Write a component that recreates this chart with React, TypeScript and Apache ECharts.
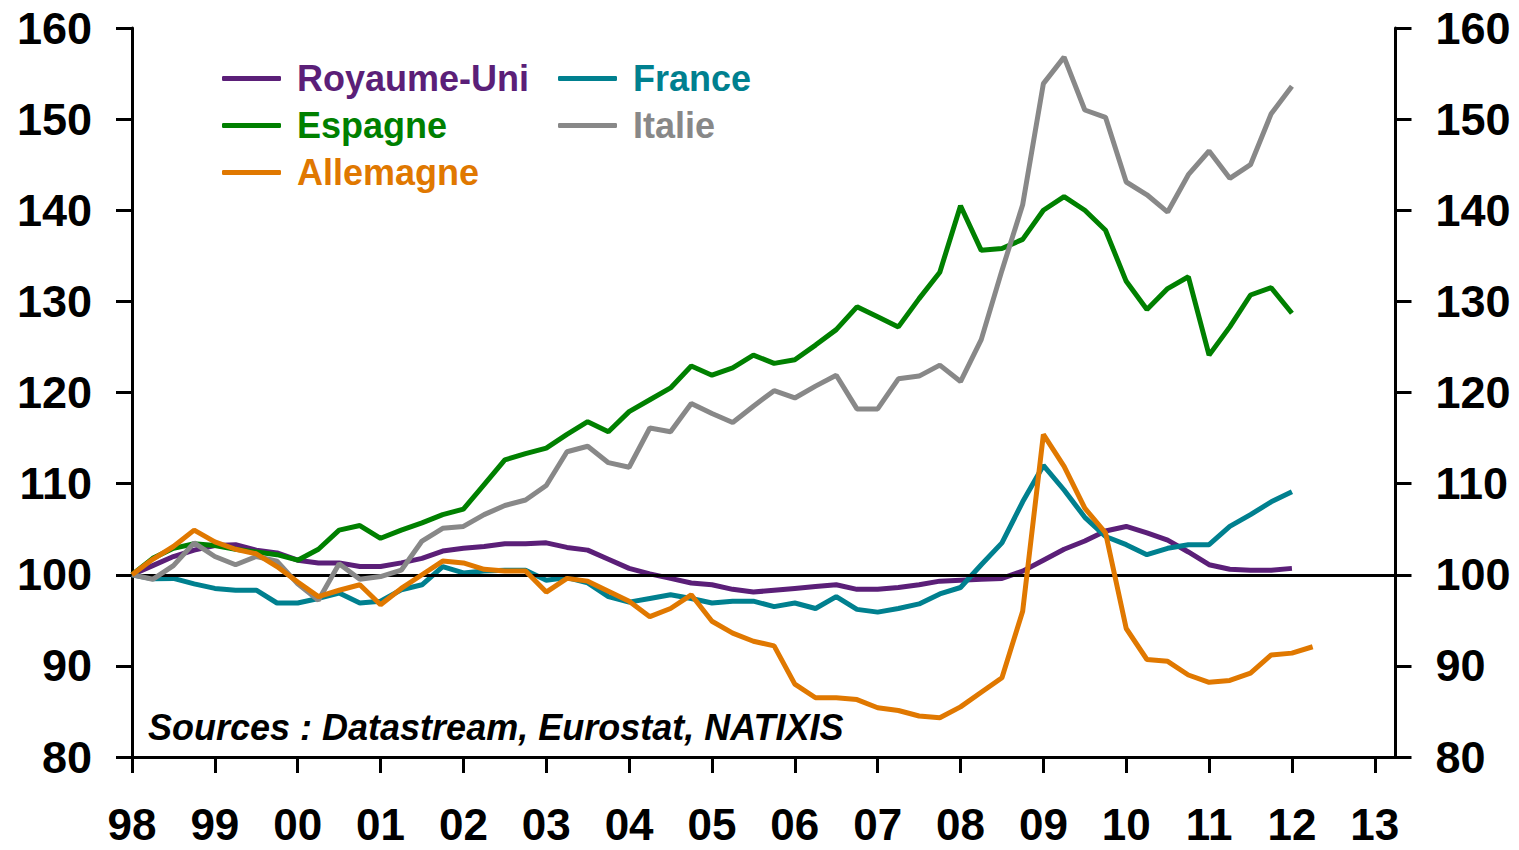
import React, { useEffect, useRef } from "react";
import * as echarts from "echarts";

// Quarterly index (1998 Q1 = 100)
const START_YEAR = 1998;
const years = [1998, 1999, 2000, 2001, 2002, 2003, 2004, 2005, 2006, 2007, 2008, 2009, 2010, 2011, 2012, 2013];
const xTickLabels = ["98", "99", "00", "01", "02", "03", "04", "05", "06", "07", "08", "09", "10", "11", "12", "13"];
const yTicks = { min: 80, max: 160, step: 10 };

const royaumeUni = [
  100, 101.0, 102.0, 102.7, 103.2, 103.3, 102.7, 102.4, 101.6, 101.3,
  101.3, 100.9, 100.9, 101.3, 101.8, 102.6, 102.9, 103.1, 103.4, 103.4,
  103.5, 103.0, 102.7, 101.7, 100.7, 100.1, 99.6, 99.1, 98.9, 98.4,
  98.1, 98.3, 98.5, 98.7, 98.9, 98.4, 98.4, 98.6, 98.9, 99.3,
  99.4, 99.5, 99.6, 100.4, 101.6, 102.8, 103.7, 104.8, 105.3, 104.6,
  103.8, 102.5, 101.1, 100.6, 100.5, 100.5, 100.7,
];
const france = [
  100, 99.55, 99.6, 99.0, 98.5, 98.3, 98.3, 96.9, 96.9, 97.4,
  98.0, 96.9, 97.1, 98.35, 98.9, 100.9, 100.2, 100.4, 100.5, 100.5,
  99.4, 99.7, 99.1, 97.6, 97.0, 97.4, 97.8, 97.4, 96.9, 97.1,
  97.1, 96.5, 96.9, 96.3, 97.6, 96.2, 95.9, 96.3, 96.8, 97.9,
  98.6, 101.1, 103.5, 108.0, 112.0, 109.3, 106.3, 104.2, 103.3, 102.2,
  102.9, 103.3, 103.3, 105.3, 106.6, 108.0, 109.1,
];
const espagne = [
  100, 101.8, 102.9, 103.4, 103.2, 102.8, 102.5, 102.2, 101.6, 102.8,
  104.9, 105.4, 104.0, 104.9, 105.7, 106.6, 107.2, 109.9, 112.6, 113.3,
  113.9, 115.4, 116.8, 115.7, 117.9, 119.2, 120.5, 122.9, 121.9, 122.7,
  124.1, 123.2, 123.6, 125.2, 126.9, 129.4, 128.3, 127.2, 130.3, 133.2,
  140.5, 135.6, 135.8, 136.8, 140.0, 141.5, 140.0, 137.8, 132.2, 129.1,
  131.4, 132.7, 124.1, 127.2, 130.7, 131.5, 128.7,
];
const italie = [
  100, 99.5, 101.0, 103.5, 102.0, 101.1, 102.0, 101.5, 99.0, 97.2,
  101.2, 99.5, 99.8, 100.5, 103.7, 105.1, 105.3, 106.6, 107.6, 108.2,
  109.8, 113.5, 114.1, 112.3, 111.8, 116.1, 115.7, 118.8, 117.7, 116.7,
  118.5, 120.2, 119.4, 120.7, 121.9, 118.2, 118.2, 121.5, 121.8, 123.0,
  121.2, 125.8, 133.4, 140.6, 153.9, 156.8, 151.0, 150.2, 143.1, 141.7,
  139.8, 143.9, 146.5, 143.5, 145.0, 150.6, 153.6,
];
const allemagne = [
  100, 101.7, 103.1, 104.9, 103.6, 102.8, 102.3, 100.9, 99.2, 97.6,
  98.3, 98.9, 96.7, 98.5, 100.0, 101.5, 101.3, 100.6, 100.4, 100.4,
  98.1, 99.6, 99.3, 98.2, 97.1, 95.4, 96.3, 97.8, 94.9, 93.6,
  92.7, 92.2, 88.0, 86.5, 86.5, 86.3, 85.4, 85.1, 84.5, 84.3,
  85.5, 87.1, 88.7, 96.0, 115.4, 111.9, 107.3, 104.6, 94.1, 90.7,
  90.5, 89.0, 88.2, 88.4, 89.2, 91.2, 91.4, 92.1,
];

const seriesDefs = [
  { name: "Royaume-Uni", values: royaumeUni, color: "#5B1F78" },
  { name: "France", values: france, color: "#00808F" },
  { name: "Espagne", values: espagne, color: "#008000" },
  { name: "Italie", values: italie, color: "#888888" },
  { name: "Allemagne", values: allemagne, color: "#E07800" },
];

const FONT = "'Liberation Sans', Arial, Helvetica, sans-serif";

export default function App() {
  const ref = useRef<HTMLDivElement>(null);

  useEffect(() => {
    if (!ref.current) return;
    const chart = echarts.init(ref.current, undefined, { renderer: "svg" });

    const colorOf = (n: string) => seriesDefs.find((s) => s.name === n)!.color;
    const legendBase = {
      orient: "vertical",
      itemWidth: 59,
      itemHeight: 5,
      itemGap: 0,
      padding: 0,
      icon: "roundRect",
      selectedMode: false,
      textStyle: {
        fontFamily: FONT,
        fontWeight: "bold",
        fontSize: 36,
        lineHeight: 47,
        padding: [0, 0, 0, 11],
      },
    };

    const yAxisBase = {
      type: "value",
      min: yTicks.min,
      max: yTicks.max,
      interval: yTicks.step,
      splitLine: { show: false },
      axisLine: { show: true, lineStyle: { color: "#000", width: 3 } },
      axisTick: { show: true, length: 16, lineStyle: { color: "#000", width: 3 } },
      axisLabel: {
        fontFamily: FONT,
        fontWeight: "bold",
        fontSize: 45,
        color: "#000",
        margin: 40,
      },
    };

    chart.setOption({
      animation: false,
      backgroundColor: "#fff",
      grid: {
        left: 132,
        right: 123.5,
        top: 28,
        bottom: 93,
        containLabel: false,
        outerBoundsMode: "none",
      },
      legend: [
        {
          ...legendBase,
          left: 222,
          top: 55,
          data: ["Royaume-Uni", "Espagne", "Allemagne"].map((n) => ({
            name: n,
            textStyle: { color: colorOf(n) },
          })),
        },
        {
          ...legendBase,
          left: 558,
          top: 55,
          data: ["France", "Italie"].map((n) => ({
            name: n,
            textStyle: { color: colorOf(n) },
          })),
        },
      ],
      xAxis: {
        type: "value",
        min: START_YEAR,
        max: 2013.25,
        splitLine: { show: false },
        axisLine: { lineStyle: { color: "#000", width: 3 } },
        axisTick: {
          show: true,
          customValues: years,
          length: 16,
          lineStyle: { color: "#000", width: 3 },
        },
        axisLabel: {
          customValues: years,
          formatter: (v: number) => {
            const k = years.indexOf(Math.round(v));
            return k >= 0 ? xTickLabels[k] : "";
          },
          fontFamily: FONT,
          fontWeight: "bold",
          fontSize: 44,
          lineHeight: 36,
          color: "#000",
          margin: 49,
        },
      },
      yAxis: [
        { ...yAxisBase, position: "left" },
        { ...yAxisBase, position: "right" },
      ],
      graphic: [
        {
          type: "text",
          left: 148,
          top: 709,
          style: {
            text: "Sources : Datastream, Eurostat, NATIXIS",
            fontFamily: FONT,
            fontWeight: "bold",
            fontStyle: "italic",
            fontSize: 36,
            fill: "#000",
          },
        },
      ],
      series: seriesDefs.map((s, idx) => ({
        name: s.name,
        type: "line",
        showSymbol: false,
        symbol: "none",
        color: s.color,
        lineStyle: { color: s.color, width: 5 },
        data: s.values.map((v, i) => [START_YEAR + i / 4, v]),
        z: 3 + idx,
        markLine:
          idx === 0
            ? {
                silent: true,
                symbol: "none",
                label: { show: false },
                lineStyle: { color: "#000", width: 3, type: "solid" },
                data: [{ yAxis: 100 }],
              }
            : undefined,
      })),
    });

    return () => chart.dispose();
  }, []);

  return (
    <div
      ref={ref}
      style={{ position: "fixed", left: 0, top: 0, width: 1519, height: 850, background: "#fff" }}
    />
  );
}
